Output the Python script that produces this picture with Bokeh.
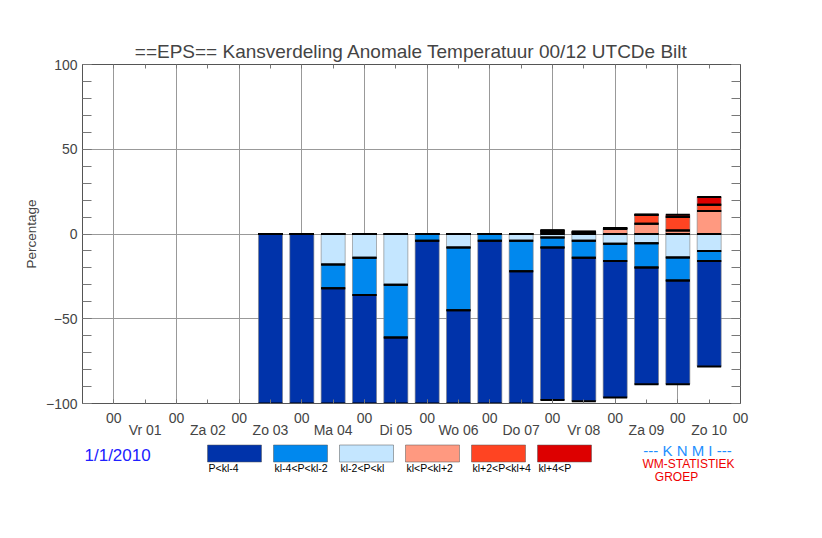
from bokeh.plotting import figure
from bokeh.models import Range1d, LinearAxis, FixedTicker, Label
from bokeh.layouts import column
from bokeh.core.properties import value
from bokeh.embed import file_html
from bokeh.resources import INLINE

# uren na 1/1/2010 00 UTC, een staaf per 12 uur
uren = [60, 72, 84, 96, 108, 120, 132, 144, 156, 168, 180, 192, 204, 216, 228]

# kansen (%) per klasse
p_kl_m4 = [100, 100, 68, 64, 39, 96, 55, 96, 78, 90, 84.6, 80.5, 69, 61.2, 62.1]
p_m4_m2 = [0, 0, 14, 22, 31, 4, 37, 4, 18, 6, 10, 10.3, 14.2, 13.6, 5.9]
p_m2_kl = [0, 0, 18, 14, 30, 0, 8, 0, 4, 2, 4, 5.7, 5.5, 13.8, 10.1]
p_kl_p2 = [0, 0, 0, 0, 0, 0, 0, 0, 0, 1, 0.8, 3, 6, 2, 13.6]
p_p2_p4 = [0, 0, 0, 0, 0, 0, 0, 0, 0, 1, 0.6, 0.5, 5.3, 8.1, 3.6]
p_p4 = [0, 0, 0, 0, 0, 0, 0, 0, 0, 0, 0, 0, 0, 1.3, 4.7]

klassen = ["P<kl-4", "kl-4<P<kl-2", "kl-2<P<kl", "kl<P<kl+2", "kl+2<P<kl+4", "kl+4<P"]
kleuren = ["#0033aa", "#0088ee", "#c4e6ff", "#ff9980", "#ff4422", "#dd0000"]

dagen = ["Vr 01", "Za 02", "Zo 03", "Ma 04", "Di 05", "Wo 06", "Do 07", "Vr 08", "Za 09", "Zo 10"]
dag_uren = [12 + 24 * i for i in range(len(dagen))]
nul_uren = [24 * i for i in range(len(dagen) + 1)]
y_ticks = [-100, -50, 0, 50, 100]
halve_dagen = list(range(-12, 241, 12))

FONT = "Liberation Sans"
GRIJS = "#999999"

p = figure(width=814, height=440, x_range=Range1d(-12, 240), y_range=Range1d(-100, 100),
           output_backend="svg", toolbar_location=None,
           x_axis_location=None, y_axis_location=None,
           min_border_left=82, min_border_right=74, min_border_top=64, min_border_bottom=37)
p.outline_line_color = "#555555"

p.title.text = "==EPS== Kansverdeling Anomale Temperatuur 00/12 UTCDe Bilt"
p.title.align = "center"
p.title.text_font = FONT
p.title.text_font_size = "19px"
p.title.text_font_style = "normal"
p.title.standoff = 5

# assen
y_ticker = FixedTicker(ticks=y_ticks, minor_ticks=list(range(-100, 101, 10)))
links = LinearAxis(ticker=y_ticker, axis_label="Percentage")
rechts = LinearAxis(ticker=y_ticker, major_label_overrides={t: "" for t in y_ticks})
for ax in (links, rechts):
    ax.major_tick_in = 9
    ax.major_tick_out = 0
    ax.minor_tick_in = 9
    ax.minor_tick_out = 0
    ax.axis_line_color = "#555555"
    ax.major_tick_line_color = "#777777"
    ax.minor_tick_line_color = "#777777"
links.major_label_text_font = FONT
links.major_label_text_font_size = "14px"
links.major_label_standoff = 5
links.axis_label_text_font = FONT
links.axis_label_text_font_size = "13.5px"
links.axis_label_text_font_style = "normal"
links.axis_label_standoff = 4
p.add_layout(links, "left")
p.add_layout(rechts, "right")

onder = LinearAxis(ticker=FixedTicker(ticks=nul_uren, minor_ticks=halve_dagen),
                   major_label_overrides={h: "00" for h in nul_uren})
boven = LinearAxis(ticker=FixedTicker(ticks=halve_dagen),
                   major_label_overrides={h: "" for h in halve_dagen}, major_label_standoff=0)
for ax in (onder, boven):
    ax.major_tick_in = 4
    ax.major_tick_out = 0
    ax.minor_tick_in = 4
    ax.minor_tick_out = 0
    ax.axis_line_color = "#555555"
    ax.major_tick_line_color = "#777777"
    ax.minor_tick_line_color = "#777777"
onder.major_label_text_font = FONT
onder.major_label_text_font_size = "14px"
onder.major_label_standoff = 9
p.add_layout(onder, "below")
p.add_layout(boven, "above")

dag_as = LinearAxis(ticker=FixedTicker(ticks=dag_uren),
                    major_label_overrides={h: d for h, d in zip(dag_uren, dagen)})
dag_as.axis_line_color = None
dag_as.major_tick_line_color = None
dag_as.minor_tick_line_color = None
dag_as.major_label_standoff = -10
dag_as.major_label_text_font = FONT
dag_as.major_label_text_font_size = "14px"
p.add_layout(dag_as, "below")

# raster
p.xgrid.ticker = FixedTicker(ticks=nul_uren)
p.ygrid.ticker = FixedTicker(ticks=[-50, 0, 50])
p.grid.grid_line_color = GRIJS
p.grid.grid_line_width = 1

# gestapelde staven: blauw naar beneden, rood naar boven
neg = [p_m2_kl, p_m4_m2, p_kl_m4]
pos = [p_kl_p2, p_p2_p4, p_p4]
breedte = 9.2

grenzen = []
top = [0.0] * len(uren)
for serie, kleur in zip(neg, [kleuren[2], kleuren[1], kleuren[0]]):
    bodem = [t - v for t, v in zip(top, serie)]
    p.vbar(x=uren, width=breedte, top=top, bottom=bodem, fill_color=kleur,
           line_color="#808080", line_width=1, line_alpha=0.6)
    grenzen += [top, bodem]
    top = bodem
bodem = [0.0] * len(uren)
for serie, kleur in zip(pos, kleuren[3:]):
    top = [b + v for b, v in zip(bodem, serie)]
    p.vbar(x=uren, width=breedte, top=top, bottom=bodem, fill_color=kleur,
           line_color="#808080", line_width=1, line_alpha=0.6)
    grenzen += [bodem, top]
    bodem = top

# zwarte lijnen op de klassegrenzen
for g in grenzen:
    p.segment(x0=[u - breedte / 2 for u in uren], x1=[u + breedte / 2 for u in uren],
              y0=g, y1=g, line_color="black", line_width=2)

# legenda en voettekst; het kader valt samen met dat van de grafiek erboven
leg = figure(width=814, height=90, x_range=Range1d(82, 740), y_range=Range1d(530, 440),
             output_backend="svg", toolbar_location=None,
             x_axis_location=None, y_axis_location=None, min_border=0)
leg.outline_line_color = None
leg.xgrid.grid_line_color = None
leg.ygrid.grid_line_color = None

lx = [207 + 66 * i for i in range(len(klassen))]
leg.quad(left=lx, right=[x + 54 for x in lx], top=[444.5] * len(lx), bottom=[461.5] * len(lx),
         fill_color=kleuren, line_color="#555555", line_alpha=0.5, line_width=1)
leg.text(x=[x + 1 for x in lx], y=[467.5] * len(lx), text=klassen, text_font=value(FONT),
         text_font_size=value("10.5px"), text_baseline="middle", text_align="left", text_color="black")

leg.add_layout(Label(x=84, y=455, text="1/1/2010", text_color="#2020ff", text_font=FONT,
                     text_font_size="17px", text_baseline="middle"))
leg.add_layout(Label(x=687, y=449.5, text="--- K N M I ---", text_color="#1e8fff", text_font=FONT,
                     text_font_size="15px", text_baseline="middle", text_align="center"))
leg.add_layout(Label(x=688, y=463.5, text="WM-STATISTIEK", text_color="#ee0000", text_font=FONT,
                     text_font_size="12px", text_baseline="middle", text_align="center"))
leg.add_layout(Label(x=676, y=476.5, text="GROEP", text_color="#ee0000", text_font=FONT,
                     text_font_size="12px", text_baseline="middle", text_align="center"))

lay = column(p, leg, spacing=0)
open("out.html", "w").write(file_html(lay, INLINE))
